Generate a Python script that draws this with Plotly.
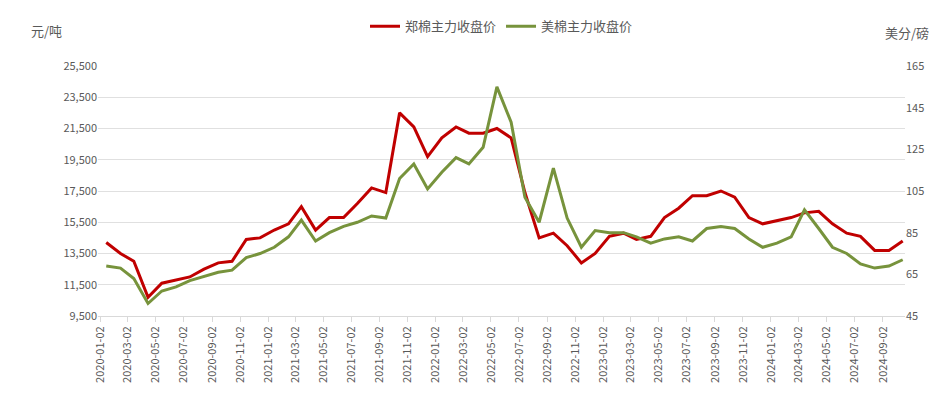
import plotly.graph_objects as go

months = [f"{2020 + i // 12}-{i % 12 + 1:02d}-15" for i in range(58)]
zce = [14200, 13500, 13000, 10700, 11600, 11800, 12000, 12500, 12900, 13000,
       14400, 14500, 15000, 15400, 16500, 15000, 15800, 15800, 16700, 17700,
       17400, 22500, 21600, 19700, 20900, 21600, 21200, 21200, 21500, 20900,
       17400, 14500, 14800, 14000, 12900, 13500, 14600, 14800, 14400, 14600,
       15800, 16400, 17200, 17200, 17500, 17100, 15800, 15400, 15600, 15800,
       16100, 16200, 15400, 14800, 14600, 13700, 13700, 14300]
ice = [69, 68, 63, 51, 57, 59, 62, 64, 66, 67,
       73, 75, 78, 83, 91, 81, 85, 88, 90, 93,
       92, 111, 118, 106, 114, 121, 118, 126, 155, 138,
       102, 90, 116, 92, 78, 86, 85, 85, 83, 80,
       82, 83, 81, 87, 88, 87, 82, 78, 80, 83,
       96, 87, 78, 75, 70, 68, 69, 72]
tick_vals = [f"{2020 + i // 12}-{i % 12 + 1:02d}-02" for i in range(0, 57, 2)]

fig = go.Figure()
fig.add_trace(go.Scatter(x=months, y=zce, name="郑棉主力收盘价", mode="lines",
                         line=dict(color="#C00000", width=3)))
fig.add_trace(go.Scatter(x=months, y=ice, name="美棉主力收盘价", mode="lines", yaxis="y2",
                         line=dict(color="#77933C", width=3)))
font = dict(family="Noto Sans CJK SC", color="#595959", size=11)
fig.update_layout(
    width=939, height=409, margin=dict(l=90, r=42, t=58, b=101, autoexpand=False),
    plot_bgcolor="white", paper_bgcolor="white", font=font,
    legend=dict(orientation="h", x=0.5, xanchor="center", yref="container", y=0.955, yanchor="middle",
                font=dict(size=13, color="#595959")),
    xaxis=dict(type="date", tickvals=tick_vals, ticktext=tick_vals, tickangle=-90,
               range=["2019-12-28", "2024-10-20"], showgrid=False,
               showline=True, linecolor="#D9D9D9", ticks="outside", tickcolor="#D9D9D9"),
    yaxis=dict(range=[9500, 25500], tickvals=list(range(9500, 25501, 2000)), tickformat=",",
               gridcolor="#E0E0E0", zeroline=False),
    yaxis2=dict(range=[45, 165], tickvals=list(range(45, 166, 20)), overlaying="y",
                side="right", showgrid=False, zeroline=False),
)
fig.add_annotation(text="元/吨", xref="paper", yref="paper", x=-0.085, y=1.19,
                   xanchor="left", showarrow=False, font=dict(size=13, color="#595959"))
fig.add_annotation(text="美分/磅", xref="paper", yref="paper", x=1.032, y=1.18,
                   xanchor="right", showarrow=False, font=dict(size=13, color="#595959"))
fig.write_html("out.html")
